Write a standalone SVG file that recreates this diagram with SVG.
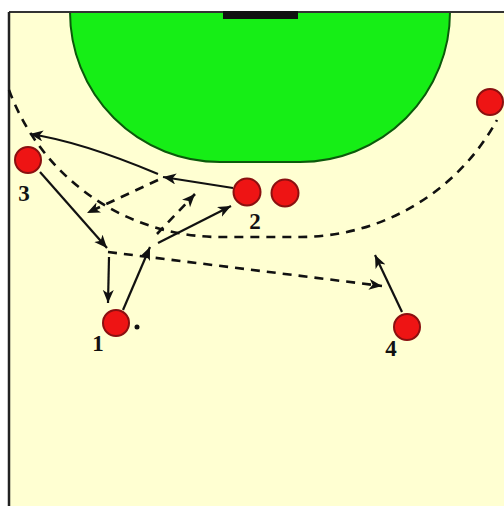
<svg xmlns="http://www.w3.org/2000/svg" width="504" height="506" viewBox="0 0 504 506">
<style>
.pl{fill:#ee1414;stroke:#8a1010;stroke-width:2}
.lbl{font-family:"Liberation Serif","Times New Roman",serif;font-weight:bold;font-size:23px;fill:#111;text-anchor:middle}
.s{fill:none;stroke:#111;stroke-width:2.2}
.d{fill:none;stroke:#111;stroke-width:2.6;stroke-dasharray:9,7}
.a{marker-end:url(#ah)}
</style>
<defs>
<marker id="ah" markerUnits="userSpaceOnUse" markerWidth="14" markerHeight="12" refX="13" refY="5.5" orient="auto">
<path d="M0,0 L13,5.5 L0,11 L3.5,5.5 z" fill="#111"/>
</marker>
</defs>
<rect width="504" height="506" fill="#ffffff"/>
<rect x="9" y="12" width="495" height="494" fill="#ffffd2"/>
<g id="court">
<path d="M70,12 A150,150 0 0 0 220,162 L300,162 A150,150 0 0 0 450,12 Z" fill="#16ee16" stroke="#0b5a0b" stroke-width="2"/>
<line x1="9" y1="12" x2="504" y2="12" stroke="#333" stroke-width="2"/>
<line x1="9" y1="12" x2="9" y2="506" stroke="#222" stroke-width="2.5"/>
<rect x="223" y="11" width="75" height="8" fill="#111"/>
</g>
<g id="connectors">
<path class="d" d="M9,90 A225,225 0 0 0 220,237 L300,237 A225,225 0 0 0 497,120"/>
<path class="s a" d="M233,188 L163,177"/>
<path class="s a" d="M158,174 C120,158 70,140 30,134"/>
<path class="d a" d="M158,180 L87,213"/>
<path class="d a" d="M157,234 L195,194"/>
<path class="s a" d="M40,172 L107,248"/>
<path class="d a" d="M108,252 L382,286"/>
<path class="s a" d="M109,257 L108,303"/>
<path class="s a" d="M123,310 L150,247"/>
<path class="s a" d="M158,243 L231,206"/>
<path class="s a" d="M402,312 L375,255"/>
</g>
<g id="player3"><circle class="pl" cx="28" cy="160" r="13"/><text class="lbl" x="24" y="201">3</text></g>
<g id="player2"><circle class="pl" cx="247" cy="192" r="13.5"/><text class="lbl" x="255" y="229">2</text></g>
<g id="defender"><circle class="pl" cx="285" cy="193" r="13.5"/></g>
<g id="player1"><circle class="pl" cx="116" cy="323" r="13"/><circle cx="137" cy="327" r="2.5" fill="#111"/><text class="lbl" x="98" y="351">1</text></g>
<g id="player4"><circle class="pl" cx="407" cy="327" r="13"/><text class="lbl" x="391" y="356">4</text></g>
<g id="player5"><circle class="pl" cx="490" cy="102" r="13"/></g>
</svg>
